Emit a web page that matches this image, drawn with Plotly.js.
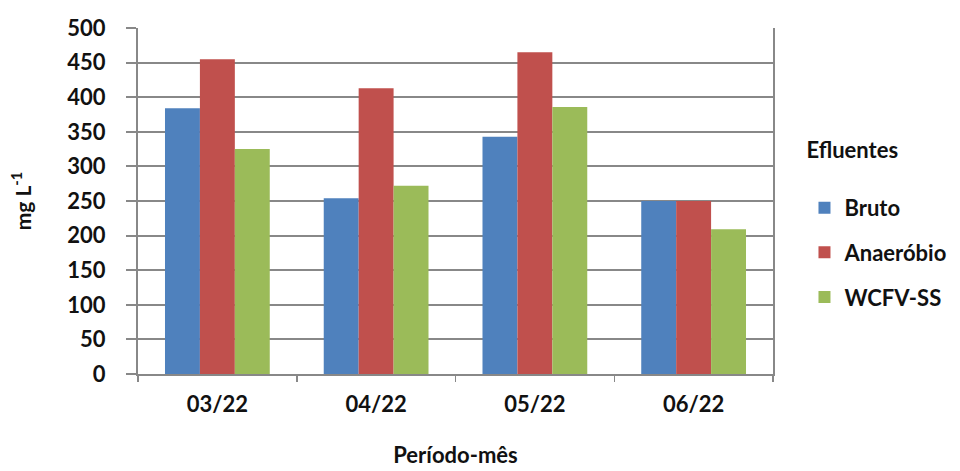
<!DOCTYPE html>
<html>
<head>
<meta charset="utf-8">
<script src="https://cdn.plot.ly/plotly-3.0.1.min.js"></script>
<style>html,body{margin:0;padding:0;background:#fff;}#chart{width:960px;height:471px;}</style>
</head>
<body>
<div id="chart"></div>
<script>
const categories = ["03/22", "04/22", "05/22", "06/22"];
const bruto = [384, 254, 343, 250];
const anaerobio = [455, 413, 465, 250];
const wcfv = [325, 272, 386, 209];
const seriesNames = ["Bruto", "Anaeróbio", "WCFV-SS"];
const colors = ["#4F81BD", "#C0504D", "#9BBB59"];
const yTicks = [0, 50, 100, 150, 200, 250, 300, 350, 400, 450, 500];

const font = "Lato, 'Open Sans', sans-serif";
const allSeries = [bruto, anaerobio, wcfv];
const traces = allSeries.map((vals, i) => ({
  type: "bar",
  x: categories,
  y: vals,
  name: seriesNames[i],
  legendgroup: "g" + i,
  marker: {color: colors[i]},
  hoverinfo: "x+y+name"
}));

const layout = {
  width: 960, height: 471,
  margin: {l: 138, r: 187, t: 28, b: 97},
  paper_bgcolor: "#fff", plot_bgcolor: "#fff",
  barmode: "group",
  bargap: 0.34,
  bargroupgap: 0,
  font: {family: font, color: "#111"},
  xaxis: {
    type: "category",
    tickson: "boundaries",
    ticks: "outside", ticklen: 6, tickcolor: "#888", tickwidth: 1.5,
    showgrid: false,
    showline: true, linecolor: "#888", linewidth: 2,
    tickfont: {size: 22, family: font, weight: "bold", color: "#111"},
    ticklabelstandoff: 10,
    title: {text: "Período-mês", font: {size: 22, family: font, weight: "bold", color: "#111"}, standoff: 31}
  },
  yaxis: {
    range: [0, 500],
    tickvals: yTicks,
    ticktext: yTicks.map(String),
    ticks: "outside", ticklen: 10, tickcolor: "#888", tickwidth: 2,
    showgrid: true, gridcolor: "#888", gridwidth: 2,
    zeroline: false,
    showline: true, linecolor: "#888", linewidth: 2, mirror: true,
    tickfont: {size: 22, family: font, weight: "bold", color: "#111"},
    ticklabelstandoff: 16,
    title: {text: "mg L<sup>-1</sup>", font: {size: 21, family: font, weight: "bold", color: "#111"}, standoff: 30}
  },
  legend: {
    xref: "container", yref: "container",
    x: 0.838, xanchor: "left",
    y: 0.525, yanchor: "middle",
    traceorder: "grouped",
    tracegroupgap: 13,
    font: {size: 22, family: font, weight: "bold", color: "#111"},
    title: {text: "Efluentes<br>&nbsp;", font: {size: 22, family: font, weight: "bold", color: "#111"}},
    itemwidth: 30
  },
  showlegend: true
};

Plotly.newPlot("chart", traces, layout, {displayModeBar: false, staticPlot: true});
</script>
</body>
</html>
